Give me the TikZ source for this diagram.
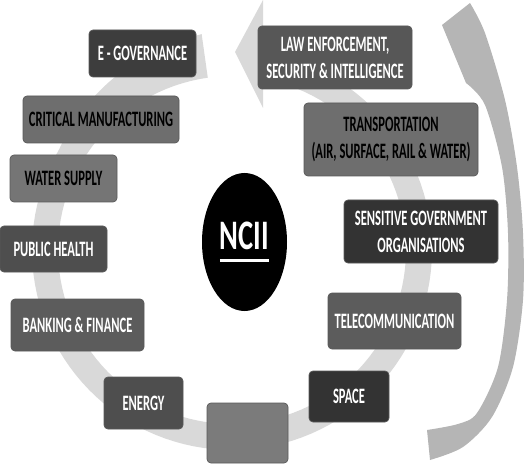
\documentclass[tikz,border=0pt]{standalone}
\usepackage{fontspec}
\usetikzlibrary{shapes.geometric}
\newfontfamily\boxfont{Carlito}[FakeStretch=0.57]
\newfontfamily\hubfont{Carlito}[FakeStretch=0.68]
\definecolor{ringgray}{HTML}{D9D9D9}
\definecolor{arrowgray}{HTML}{B5B5B5}
\definecolor{shadeA}{HTML}{333333}
\definecolor{shadeB}{HTML}{4E4E4E}
\definecolor{shadeC}{HTML}{5C5C5C}
\definecolor{shadeD}{HTML}{6E6E6E}
\definecolor{shadeE}{HTML}{7B7B7B}
\tikzset{
  sector/.style={rectangle, rounded corners=4pt, draw=black!65, line width=0.7pt, align=center, inner sep=0pt, font=\boxfont\bfseries\fontsize{22}{27}\selectfont},
  lighttext/.style={sector, text=white},
  darktext/.style={sector, text=black},
}
\newcommand{\ulword}[1]{\setbox0=\hbox{#1}\vbox{\copy0\kern9pt\hrule height 2.8pt width \wd0}}
\begin{document}
\begin{tikzpicture}[x=1pt, y=-1pt, declare function={rout(\t)=200+18*max(0,(150-\t)/52);}]
    \useasboundingbox (0,0) rectangle (530,465);

    \fill[ringgray] plot[domain=98:440, samples=120] ({232+rout(\x)*cos(\x)}, {250-rout(\x)*sin(\x)}) -- plot[domain=440:98, samples=120] ({232+174*cos(\x)}, {250-174*sin(\x)}) -- cycle;
    \fill[ringgray] (263,0) -- (235,52) -- (263,108) -- cycle;

    \fill[arrowgray] plot[smooth] coordinates {(470,3) (485,33) (505,100) (517,167) (523,233) (523,300) (513,367) (492,417) (463,447) (430,460)} -- plot[smooth] coordinates {(427,430) (458,424) (477,413) (498,367) (507,300) (508,233) (502,167) (485,105) (466,83)} -- (442,25) -- cycle;

    \node[lighttext, fill=shadeA!95!white, minimum width=107, minimum height=47] (egov) at (142.5,53.5) {E - GOVERNANCE};
    \node[darktext, fill=shadeD, minimum width=156, minimum height=47] (critical) at (101,119.5) {CRITICAL MANUFACTURING};
    \node[darktext, fill=shadeD!95!white, minimum width=107, minimum height=47] (water) at (63.5,178.5) {WATER SUPPLY};
    \node[lighttext, fill=shadeB, minimum width=107, minimum height=46] (health) at (53.5,249) {PUBLIC HEALTH};
    \node[lighttext, fill=shadeC, minimum width=133, minimum height=52] (banking) at (77.5,325) {BANKING \& FINANCE};
    \node[lighttext, fill=shadeB, minimum width=79, minimum height=52] (energy) at (143.5,403) {ENERGY};
    \node[sector, fill=shadeE, minimum width=81, minimum height=60] (blank) at (247.5,433) {};
    \node[lighttext, fill=shadeA, minimum width=80, minimum height=51] (space) at (349,396.5) {SPACE};
    \node[lighttext, fill=shadeC, minimum width=133, minimum height=56] (telecom) at (394.5,321) {TELECOMMUNICATION};
    \node[lighttext, fill=shadeA, minimum width=154, minimum height=63] (sensitive) at (421,231.5) {SENSITIVE GOVERNMENT\\ORGANISATIONS};
    \node[darktext, fill=shadeD, minimum width=174, minimum height=73] (transport) at (391,139.5) {TRANSPORTATION\\(AIR, SURFACE, RAIL \& WATER)};
    \node[lighttext, fill=shadeC!95!black, minimum width=154, minimum height=63] (law) at (335,57.5) {LAW ENFORCEMENT,\\SECURITY \& INTELLIGENCE};

    \node[ellipse, fill=black, text=white, inner sep=0pt, minimum width=85, minimum height=138, font=\hubfont\bfseries\fontsize{42}{44}\selectfont] (ncii) at (244.5,242) {\ulword{NCII}};
\end{tikzpicture}
\end{document}
